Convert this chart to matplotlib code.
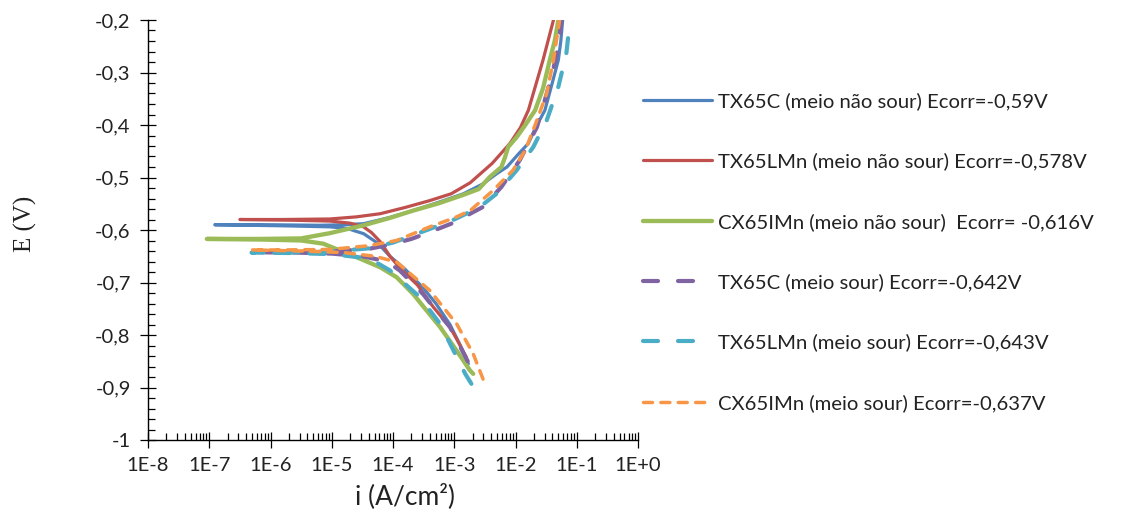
import numpy as np
import matplotlib.pyplot as plt
from matplotlib.ticker import MultipleLocator, LogLocator, FuncFormatter, NullFormatter

# log10 of current density (A/cm2) and potential (V), traced from the cathodic end
# through Ecorr (leftmost point) and up the anodic branch
tx65c_log_i = [-2.77, -2.90, -3.07, -3.30, -3.51, -3.80, -4.05, -4.25, -4.48, -4.75, -5.03, -5.8, -6.91,
               -6.0, -5.2, -4.80, -4.48, -4.05, -3.67, -3.25, -2.85, -2.53, -2.31, -2.14, -1.95,
               -1.79, -1.65, -1.52, -1.40, -1.30, -1.26, -1.23]
tx65c_E = [-0.855, -0.820, -0.780, -0.740, -0.710, -0.675, -0.650, -0.625, -0.607, -0.597, -0.594, -0.592, -0.590,
           -0.590, -0.591, -0.590, -0.588, -0.576, -0.563, -0.547, -0.531, -0.512, -0.493, -0.480, -0.455,
           -0.435, -0.400, -0.372, -0.320, -0.276, -0.240, -0.200]

tx65lmn_log_i = [-2.80, -2.95, -3.07, -3.34, -3.60, -3.89, -4.05, -4.21, -4.35, -4.48, -4.70, -5.03, -5.8, -6.50,
                 -5.8, -5.03, -4.60, -4.21, -3.80, -3.40, -3.05, -2.74, -2.38, -2.09, -1.92, -1.79,
                 -1.66, -1.55, -1.38]
tx65lmn_E = [-0.843, -0.810, -0.785, -0.747, -0.705, -0.672, -0.650, -0.622, -0.605, -0.594, -0.587, -0.583, -0.581, -0.580,
             -0.580, -0.579, -0.575, -0.569, -0.557, -0.544, -0.531, -0.510, -0.473, -0.435, -0.405, -0.372,
             -0.320, -0.276, -0.200]

cx65imn_log_i = [-2.69, -2.74, -2.96, -3.23, -3.51, -3.67, -3.94, -4.21, -4.59, -4.95, -5.14, -5.5, -6.2, -7.04,
                 -6.2, -5.5, -5.03, -4.48, -4.05, -3.67, -3.25, -2.85, -2.60, -2.42, -2.23, -2.17, -2.12,
                 -1.98, -1.84, -1.68, -1.55, -1.44, -1.36, -1.30]
cx65imn_E = [-0.874, -0.868, -0.830, -0.785, -0.745, -0.722, -0.690, -0.671, -0.652, -0.635, -0.626, -0.620, -0.618, -0.617,
             -0.617, -0.616, -0.606, -0.591, -0.577, -0.563, -0.549, -0.533, -0.522, -0.499, -0.480, -0.461, -0.442,
             -0.423, -0.400, -0.372, -0.330, -0.276, -0.240, -0.200]

tx65c_s_log_i = [-2.78, -3.07, -3.34, -3.51, -3.89, -4.10, -4.5, -5.0, -5.6, -6.31,
                 -5.8, -5.03, -4.4, -4.05, -3.70, -3.40, -3.05, -2.74, -2.53, -2.23, -1.93,
                 -1.65, -1.41, -1.30, -1.25]
tx65c_s_E = [-0.850, -0.785, -0.747, -0.722, -0.677, -0.660, -0.650, -0.645, -0.643, -0.642,
             -0.642, -0.641, -0.636, -0.628, -0.617, -0.604, -0.588, -0.569, -0.556, -0.518, -0.467,
             -0.404, -0.308, -0.250, -0.200]

tx65lmn_s_log_i = [-2.72, -2.82, -3.01, -3.23, -3.56, -4.05, -4.30, -4.55, -5.0, -5.6, -6.31,
                   -5.8, -5.03, -4.4, -4.0, -3.40, -3.0, -2.58, -2.31, -1.98, -1.71,
                   -1.49, -1.30, -1.17, -1.11]
tx65lmn_s_E = [-0.893, -0.874, -0.830, -0.779, -0.728, -0.677, -0.660, -0.652, -0.646, -0.644, -0.643,
               -0.643, -0.641, -0.635, -0.624, -0.598, -0.580, -0.556, -0.531, -0.486, -0.442,
               -0.391, -0.327, -0.264, -0.200]

cx65imn_s_log_i = [-2.53, -2.69, -2.96, -3.40, -3.94, -4.3, -4.8, -5.5, -6.31,
                   -5.8, -5.03, -4.4, -3.94, -3.40, -3.0, -2.74, -2.36, -2.04, -1.84,
                   -1.68, -1.49, -1.38, -1.28]
cx65imn_s_E = [-0.884, -0.836, -0.779, -0.715, -0.661, -0.650, -0.643, -0.640, -0.638,
               -0.638, -0.637, -0.630, -0.620, -0.594, -0.577, -0.563, -0.524, -0.486, -0.448,
               -0.400, -0.340, -0.276, -0.200]

labels = ["TX65C (meio não sour) Ecorr=-0,59V",
          "TX65LMn (meio não sour) Ecorr=-0,578V",
          "CX65IMn (meio não sour)  Ecorr= -0,616V",
          "TX65C (meio sour) Ecorr=-0,642V",
          "TX65LMn (meio sour) Ecorr=-0,643V",
          "CX65IMn (meio sour) Ecorr=-0,637V"]

series = [(tx65c_log_i, tx65c_E), (tx65lmn_log_i, tx65lmn_E), (cx65imn_log_i, cx65imn_E),
          (tx65c_s_log_i, tx65c_s_E), (tx65lmn_s_log_i, tx65lmn_s_E), (cx65imn_s_log_i, cx65imn_s_E)]
colors = ["#4F81BD", "#C0504D", "#9BBB59", "#8064A2", "#4BACC6", "#F79646"]
widths = [2.3, 2.3, 3.1, 3.0, 3.0, 2.5]
dashes = [None, None, None, (3.6, 4.8), (3.6, 4.8), (2.6, 2.4)]

plt.rcParams['font.family'] = ['Lato', 'DejaVu Sans']

fig = plt.figure(figsize=(11.29, 5.13), dpi=100)
ax = fig.add_axes([148 / 1129, 1 - 440 / 513, 490 / 1129, 420 / 513])

for (li, e), c, w, d, lab in zip(series, colors, widths, dashes, labels):
    line, = ax.plot(10 ** np.array(li), e, color=c, lw=w, label=lab,
                    solid_capstyle='round', dash_capstyle='round', solid_joinstyle='round')
    if d is not None:
        line.set_dashes(d)

ax.set_xscale('log')
ax.set_xlim(1e-8, 1)
ax.set_ylim(-1, -0.2)

ax.yaxis.set_major_locator(MultipleLocator(0.1))
ax.yaxis.set_minor_locator(MultipleLocator(0.02))
ax.yaxis.set_major_formatter(FuncFormatter(
    lambda v, p: "-1" if abs(v + 1) < 1e-9 else ("%.1f" % v).replace('.', ',')))
ax.xaxis.set_major_locator(LogLocator(base=10, numticks=20))
ax.xaxis.set_minor_locator(LogLocator(base=10, subs=np.arange(2, 10), numticks=200))
ax.xaxis.set_minor_formatter(NullFormatter())
ax.xaxis.set_major_formatter(FuncFormatter(
    lambda v, p: "1E+0" if round(np.log10(v)) == 0 else "1E%d" % int(round(np.log10(v)))))

ax.tick_params(which='major', direction='inout', length=11, width=0.9, labelsize=14.5,
               pad=7, colors='black', labelcolor='#222222')
ax.tick_params(which='minor', direction='in', length=5, width=0.9)

for s in ['top', 'right']:
    ax.spines[s].set_visible(False)
for s in ['left', 'bottom']:
    ax.spines[s].set_linewidth(1.0)

fig.text(25 / 1129, 1 - 224 / 513, "E (V)", rotation=90, ha='center', va='center',
         family='Liberation Serif', fontsize=18, color='#222222')
fig.text(405 / 1129, 1 - 496 / 513, "i (A/cm²)", ha='center', va='center',
         fontsize=19, color='#222222')

leg = fig.legend(loc='center left', bbox_to_anchor=(643 / 1129, 1 - 252 / 513),
                 frameon=False, fontsize=14.6, handlelength=3.4, handletextpad=0.3,
                 labelspacing=2.09, borderpad=0, borderaxespad=0)
for t in leg.get_texts():
    t.set_color('#222222')

fig.savefig('out.png', dpi=100)
